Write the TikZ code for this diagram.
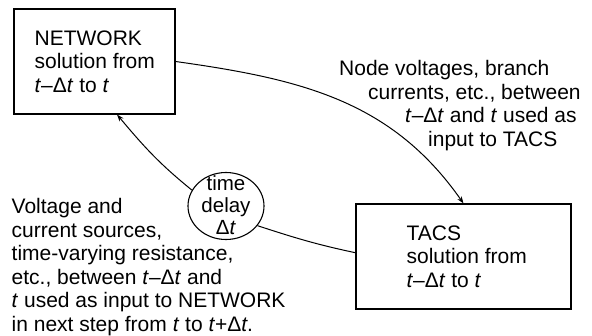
\documentclass[tikz,border=0pt]{standalone}
\usepackage{fontspec}
\setmainfont{Liberation Sans}
\usetikzlibrary{arrows.meta,shapes.geometric}
\begin{document}
\begin{tikzpicture}[x=1pt,y=-1pt,
  box/.style={draw,line width=1.1pt,inner sep=0pt},
  txt/.style={inner sep=0pt,align=left,font=\fontsize{21}{23.5}\selectfont},
  conn/.style={line width=1pt},
  tip/.style={-{Stealth[length=7pt,width=5pt]}}]
\useasboundingbox (0,0) rectangle (592,335);
% boxes
\node[box,minimum width=161pt,minimum height=105pt] (net) at (94.5,61.5) {};
\node[txt,anchor=west] (nettext) at ([xshift=21pt]net.west)
  {NETWORK\\solution from\\\textit{t}\textendash Δ\textit{t} to \textit{t}};
\node[box,minimum width=215pt,minimum height=105pt] (tacs) at (463.5,256.5) {};
\node[txt,anchor=west] (tacstext) at ([xshift=51pt]tacs.west)
  {TACS\\solution from\\\textit{t}\textendash Δ\textit{t} to \textit{t}};
% delay circle
\node[draw,ellipse,line width=1.1pt,minimum width=76pt,minimum height=67pt,inner sep=0pt] (delay) at (226,206) {};
\node[inner sep=0pt,align=center,font=\fontsize{20.5}{22}\selectfont] (delaytext) at (226,205) {time\\delay\\Δ\textit{t}};
% texts
\node[txt,anchor=north west] (lefttext) at (11.5,198.2)
  {Voltage and\\current sources,\\time-varying resistance,\\etc., between \textit{t}\textendash Δ\textit{t} and\\\textit{t} used as input to NETWORK\\in next step from \textit{t} to \textit{t}+Δ\textit{t}.};
\node[txt,anchor=north west] (righttext) at (339,60.2)
  {Node voltages, branch\\\hspace*{29pt}currents, etc., between\\\hspace*{66pt}\textit{t}\textendash Δ\textit{t} and \textit{t} used as\\\hspace*{89pt}input to TACS};
% connectors
\draw[conn,tip] (net.east) .. controls +(125,17.5) and +(-72,-103) .. (tacs.north);
\draw[conn,tip] (delay.155) .. controls +(-32.6,-26.4) and +(27,32.2) .. (net.-67);
\draw[conn] (delay.-32) .. controls +(38,12.4) and +(-39.1,-8.3) .. (tacs.178);
\end{tikzpicture}
\end{document}
